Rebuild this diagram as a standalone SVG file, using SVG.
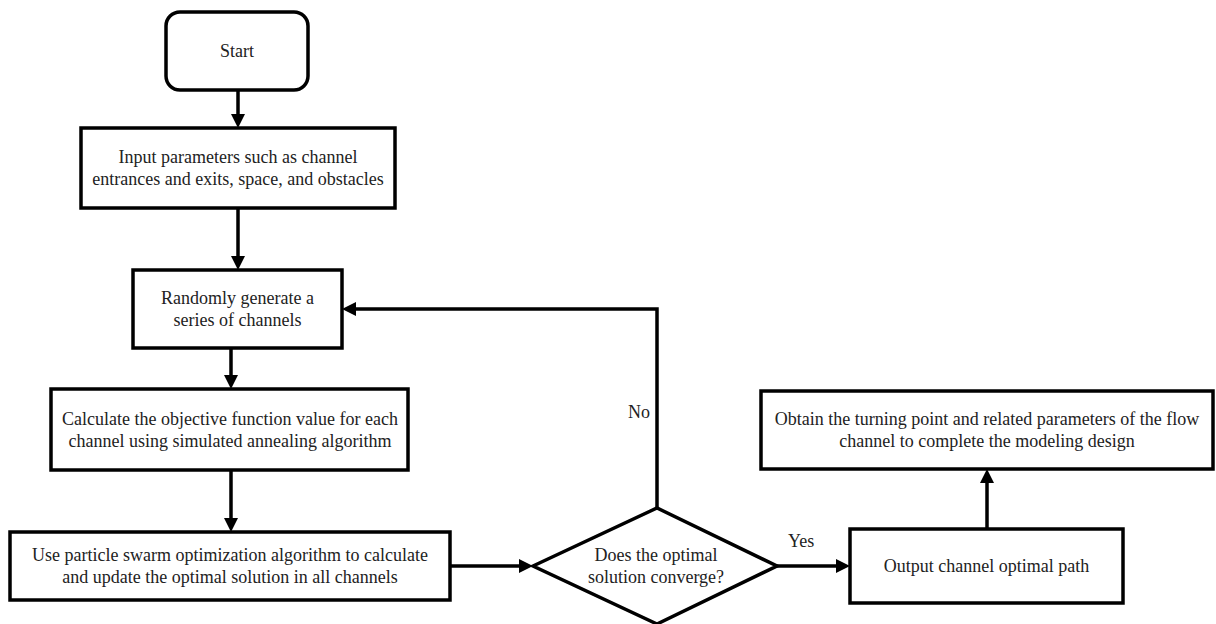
<svg xmlns="http://www.w3.org/2000/svg" width="1216" height="624" viewBox="0 0 1216 624">
<style>
.box{fill:#fff;stroke:#000;stroke-width:3.5}
.t{font-size:18px;fill:#222;text-anchor:middle}
.lbl{font-size:18px;fill:#222}
.c{fill:none;stroke:#000;stroke-width:3.5}
</style>
<defs>
<marker id="ah" viewBox="0 0 14 14" refX="7" refY="7" markerWidth="14" markerHeight="14" markerUnits="userSpaceOnUse" orient="auto">
<path d="M0,0 L14,7 L0,14 Z" fill="#000"/>
</marker>
</defs>
<rect width="1216" height="624" fill="#fff"/>
<g font-family="Liberation Serif, serif">
<g id="connectors">
<line class="c" x1="238" y1="90" x2="238" y2="121" marker-end="url(#ah)"/>
<line class="c" x1="238" y1="208" x2="238" y2="263" marker-end="url(#ah)"/>
<line class="c" x1="231" y1="348" x2="231" y2="382" marker-end="url(#ah)"/>
<line class="c" x1="231" y1="470" x2="231" y2="525" marker-end="url(#ah)"/>
<line class="c" x1="450" y1="566" x2="526" y2="566" marker-end="url(#ah)"/>
<polyline class="c" points="657,508 657,309 349,309" marker-end="url(#ah)"/>
<line class="c" x1="777" y1="566" x2="843" y2="566" marker-end="url(#ah)"/>
<line class="c" x1="987" y1="529" x2="987" y2="476" marker-end="url(#ah)"/>
<text class="lbl" x="628" y="418">No</text>
<text class="lbl" x="788" y="547">Yes</text>
</g>
<g id="start">
<rect class="box" x="166" y="12" width="142" height="78" rx="14"/>
<text class="t" x="237" y="57">Start</text>
</g>
<g id="input">
<rect class="box" x="81" y="128" width="314" height="80"/>
<text class="t" x="238" y="163">Input parameters such as channel</text>
<text class="t" x="238" y="185">entrances and exits, space, and obstacles</text>
</g>
<g id="random">
<rect class="box" x="133" y="270" width="209" height="78"/>
<text class="t" x="237.5" y="304">Randomly generate a</text>
<text class="t" x="237.5" y="326">series of channels</text>
</g>
<g id="calc">
<rect class="box" x="51" y="389" width="357" height="81"/>
<text class="t" x="230" y="425">Calculate the objective function value for each</text>
<text class="t" x="230" y="447">channel using simulated annealing algorithm</text>
</g>
<g id="pso">
<rect class="box" x="10" y="532" width="440" height="68"/>
<text class="t" x="230" y="561">Use particle swarm optimization algorithm to calculate</text>
<text class="t" x="230" y="583">and update the optimal solution in all channels</text>
</g>
<g id="decision">
<polygon class="box" points="533,566 657,508 777,566 657,624"/>
<text class="t" x="656" y="561">Does the optimal</text>
<text class="t" x="656" y="583">solution converge?</text>
</g>
<g id="output">
<rect class="box" x="850" y="529" width="273" height="74"/>
<text class="t" x="986.5" y="572">Output channel optimal path</text>
</g>
<g id="obtain">
<rect class="box" x="761" y="391" width="452" height="78"/>
<text class="t" x="987" y="425">Obtain the turning point and related parameters of the flow</text>
<text class="t" x="987" y="447">channel to complete the modeling design</text>
</g>
</g>
</svg>
